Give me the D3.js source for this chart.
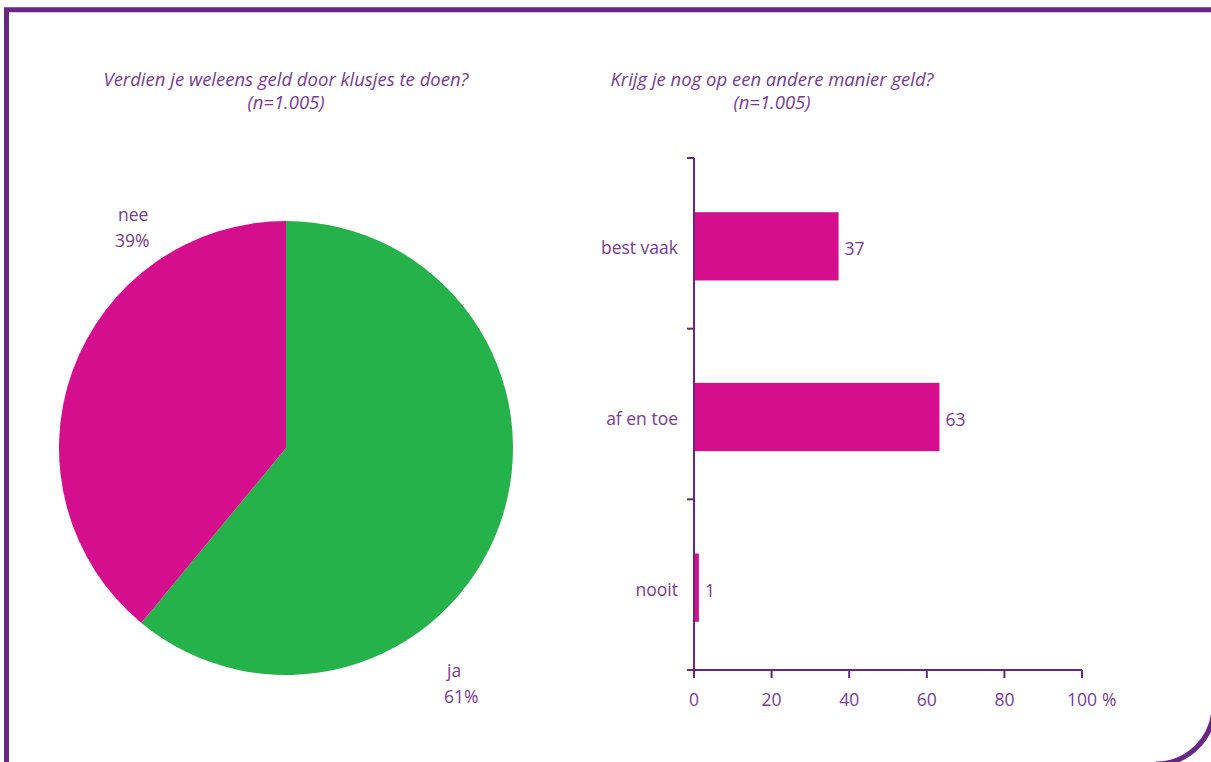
<!DOCTYPE html>
<html><head><meta charset="utf-8">
<script src="https://cdn.jsdelivr.net/npm/d3@7"></script>
<style>
body{margin:0;background:#fff;}
svg{display:block;font-family:"Open Sans",sans-serif;}
</style></head>
<body>
<svg id="c" width="1211" height="762"></svg>
<script>
// Pie data
const pieCategories = ["ja", "nee"];
const pieValues = [61, 39];
// Bar data
const barCategories = ["best vaak", "af en toe", "nooit"];
const barValues = [37, 63, 1];
const xTicks = [0, 20, 40, 60, 80, 100];
const titleLeft = ["Verdien je weleens geld door klusjes te doen?", "(n=1.005)"];
const titleRight = ["Krijg je nog op een andere manier geld?", "(n=1.005)"];

const purple = "#682583", textC = "#7a3a93", magenta = "#d40e8c", green = "#25b24b";
const FS = 17.5;
const svg = d3.select("#c");

// Frame: square left/top, rounded bottom-right corner running off the page
svg.append("path")
  .attr("d", "M6.5,770 V9.8 H1220 M1214,600 V706 A58,58 0 0 1 1156,764")
  .attr("fill", "none").attr("stroke", purple).attr("stroke-width", 5);

function title(lines, cx) {
  const t = svg.append("text").attr("text-anchor", "middle").attr("fill", textC)
    .attr("font-size", 18.5).attr("font-style", "italic");
  lines.forEach((l, i) => t.append("tspan").attr("x", cx).attr("y", 86 + i * 23).text(l));
}
title(titleLeft, 286);
title(titleRight, 772);

// Pie
const cx = 286, cy = 448, r = 227;
const pie = d3.pie().sort(null).value(d => d)(pieValues);
const arc = d3.arc().innerRadius(0).outerRadius(r);
const pg = svg.append("g").attr("transform", `translate(${cx},${cy})`);
const pieColors = [green, magenta];
pg.selectAll("path").data(pie).join("path").attr("d", arc).attr("fill", (d, i) => pieColors[i]);
const pieLabelPos = [[447, 677], [118, 221]];
pieCategories.forEach((c, i) => {
  const t = svg.append("text").attr("fill", textC).attr("font-size", FS);
  t.append("tspan").attr("x", pieLabelPos[i][0]).attr("y", pieLabelPos[i][1]).text(c);
  t.append("tspan").attr("x", pieLabelPos[i][0] - 3).attr("y", pieLabelPos[i][1] + 26).text(pieValues[i] + "%");
});

// Bars
const x = d3.scaleLinear().domain([0, 100]).range([694, 1082]);
const y = d3.scaleBand().domain(barCategories).range([158, 670]).paddingInner(0.6).paddingOuter(0.3);
const g = svg.append("g");
g.selectAll("rect.bar").data(barValues).join("rect").attr("class", "bar")
  .attr("x", x(0)).attr("y", (d, i) => y(barCategories[i]) + 3)
  .attr("width", d => x(d) - x(0) + 1).attr("height", y.bandwidth()).attr("fill", magenta);
g.selectAll("text.val").data(barValues).join("text").attr("class", "val")
  .attr("x", d => x(d) + 7).attr("y", (d, i) => y(barCategories[i]) + 3 + y.bandwidth() / 2 + 9)
  .attr("fill", textC).attr("font-size", FS).text(d => d);

// y axis
const yb = d3.scaleLinear().domain([0, barCategories.length]).range([158, 670]);
g.append("line").attr("x1", x(0)).attr("x2", x(0)).attr("y1", yb(0)).attr("y2", yb(3) + 7)
  .attr("stroke", purple).attr("stroke-width", 2);
d3.range(0, barCategories.length + 1).forEach(k => {
  g.append("line").attr("x1", x(0) - 7).attr("x2", x(0)).attr("y1", yb(k)).attr("y2", yb(k))
    .attr("stroke", purple).attr("stroke-width", 2);
});
barCategories.forEach(c => {
  g.append("text").attr("x", 678).attr("y", y(c) + 3 + y.bandwidth() / 2 + 8)
    .attr("text-anchor", "end").attr("fill", textC).attr("font-size", FS).text(c);
});
// x axis
g.append("line").attr("x1", x(0) - 7).attr("x2", x(100)).attr("y1", 670).attr("y2", 670)
  .attr("stroke", purple).attr("stroke-width", 2);
let lastLabel;
xTicks.forEach(t => {
  g.append("line").attr("x1", x(t)).attr("x2", x(t)).attr("y1", 670).attr("y2", 678)
    .attr("stroke", purple).attr("stroke-width", 2);
  lastLabel = g.append("text").attr("x", x(t)).attr("y", 706).attr("text-anchor", "middle")
    .attr("fill", textC).attr("font-size", FS).text(t);
});
const bb = lastLabel.node().getBBox();
g.append("text").attr("x", bb.x + bb.width + 5).attr("y", 706).attr("fill", textC).attr("font-size", FS).text("%");
</script>
</body></html>
